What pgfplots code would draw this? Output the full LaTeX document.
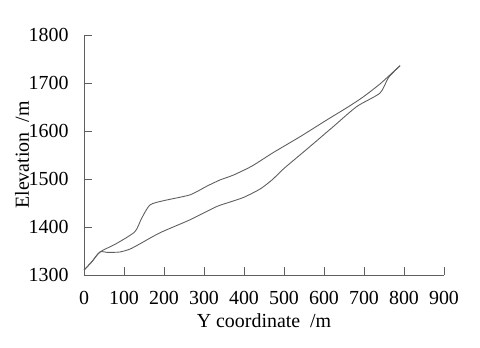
\documentclass[border=0pt]{standalone}
\usepackage{fontspec}
\setmainfont{Liberation Serif}
\usepackage{pgfplots}
\pgfplotsset{compat=1.18}
\definecolor{linegray}{RGB}{95,95,95}
\begin{document}
\begin{tikzpicture}[x=1bp,y=1bp]
  \begin{axis}[
      scale only axis,
      width=360bp, height=240bp,
      xmin=0, xmax=900,
      ymin=1300, ymax=1800,
      xtick={0,100,...,900},
      ytick={1300,1400,...,1800},
      axis x line*=bottom,
      axis y line*=left,
      axis line style={linegray, line width=0.8pt, -},
      tick style={linegray, line width=0.8pt},
      major tick length=8bp,
      tick align=inside,
      font=\fontsize{20}{23}\selectfont,
      /pgf/number format/assume math mode=true,
      /pgf/number format/set thousands separator={},
      xticklabel style={yshift=-13bp},
      yticklabel style={xshift=-12bp},
      xlabel={Y coordinate\ \ /m},
      ylabel={Elevation\ \ /m},
      xlabel style={at={(rel axis cs:0.5,-0.19)}, anchor=center},
      ylabel style={at={(rel axis cs:-0.172,0.5)}, anchor=center},
      clip=false,
    ]
    \path[use as bounding box] (rel axis cs:-0.2333,-0.3) rectangle (rel axis cs:1.1,1.1458);
    \addplot[linegray, line width=0.9pt, smooth, tension=0.4] coordinates {
      (0,1310) (20,1328) (40,1348) (80,1365) (127,1390) (144,1418)
      (165,1446) (200,1455) (265,1467) (307,1485) (340,1498) (373,1508)
      (420,1527) (473,1555) (540,1588) (607,1623) (660,1650) (698,1671)
      (740,1698) (773,1723) (790,1736)
    };
    \addplot[linegray, line width=0.9pt, smooth, tension=0.4] coordinates {
      (0,1310) (20,1328) (40,1348) (60,1347) (90,1348) (115,1354)
      (140,1365) (190,1388) (265,1415) (330,1442) (365,1452) (400,1462)
      (440,1479) (470,1498) (500,1522) (557,1562) (623,1609) (682,1651)
      (740,1679) (761,1711) (790,1736)
    };
  \end{axis}
\end{tikzpicture}
\end{document}
